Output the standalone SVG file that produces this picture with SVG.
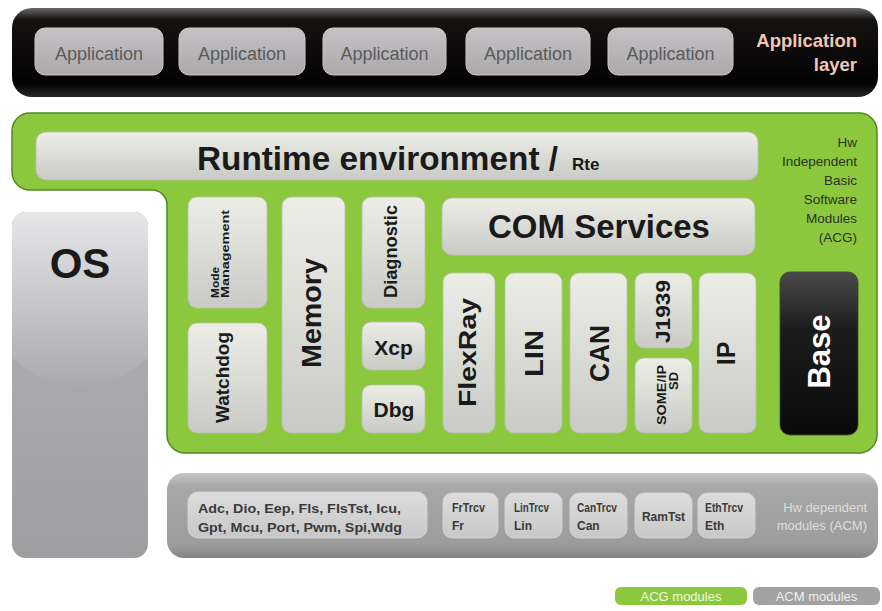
<svg xmlns="http://www.w3.org/2000/svg" width="882" height="611" viewBox="0 0 882 611">
<defs>
<linearGradient id="gBlack" x1="0" y1="0" x2="0" y2="1">
<stop offset="0" stop-color="#6a6666"/><stop offset="0.13" stop-color="#151212"/><stop offset="0.85" stop-color="#030202"/><stop offset="1" stop-color="#2a2626"/>
</linearGradient>
<linearGradient id="gApp" x1="0" y1="0" x2="0" y2="1">
<stop offset="0" stop-color="#c4c2c4"/><stop offset="1" stop-color="#aaa8aa"/>
</linearGradient>
<linearGradient id="gBox" x1="0" y1="0" x2="0" y2="1">
<stop offset="0" stop-color="#eceee6"/><stop offset="1" stop-color="#c9cac6"/>
</linearGradient>
<linearGradient id="gBase" x1="0" y1="0" x2="0" y2="1">
<stop offset="0" stop-color="#4a4a4a"/><stop offset="0.35" stop-color="#1c1c1c"/><stop offset="1" stop-color="#0a0a0a"/>
</linearGradient>
<linearGradient id="gOS" x1="0" y1="0" x2="0" y2="1">
<stop offset="0" stop-color="#b4b4b6"/><stop offset="1" stop-color="#9e9ea0"/>
</linearGradient>
<linearGradient id="gOSgloss" gradientUnits="userSpaceOnUse" x1="0" y1="212" x2="0" y2="387">
<stop offset="0" stop-color="#e6e6e8"/><stop offset="1" stop-color="#aaaaac"/>
</linearGradient>
<linearGradient id="gBar" x1="0" y1="0" x2="0" y2="1">
<stop offset="0" stop-color="#c6c6c6"/><stop offset="0.15" stop-color="#a8a8a8"/><stop offset="0.85" stop-color="#9c9c9c"/><stop offset="1" stop-color="#858585"/>
</linearGradient>
<linearGradient id="gLow" x1="0" y1="0" x2="0" y2="1">
<stop offset="0" stop-color="#dcdcdc"/><stop offset="1" stop-color="#c8c8c8"/>
</linearGradient>
<clipPath id="osClip"><rect x="12" y="212" width="136" height="346" rx="14"/></clipPath>
</defs>
<style>
text{font-family:"Liberation Sans","DejaVu Sans",sans-serif}
.app{fill:url(#gApp);stroke:#d6c6be;stroke-width:1}
.appT{font-size:18px;fill:#5a5a5a;text-anchor:middle}
.box{fill:url(#gBox);stroke:#b9c0ae;stroke-width:0.8}
.bt{font-weight:bold;fill:#1a1a1a}
.mid{text-anchor:middle}
.low{fill:url(#gLow);stroke:#d8d8d8;stroke-width:0.8}
.lt{font-size:12px;font-weight:bold;fill:#3a3a3a}
</style>
<rect width="882" height="611" fill="#ffffff"/>

<g id="application-layer">
<rect x="12" y="8" width="866" height="89" rx="20" fill="url(#gBlack)"/>
<text x="857" y="47" font-size="18.5" font-weight="bold" fill="#f0c8b4" text-anchor="end">Application</text>
<text x="857" y="71" font-size="18.5" font-weight="bold" fill="#f0c8b4" text-anchor="end">layer</text>
</g>
<g id="app1"><rect class="app" x="35" y="28" width="128" height="47" rx="10"/><text class="appT" x="99" y="60">Application</text></g>
<g id="app2"><rect class="app" x="179" y="28" width="126" height="47" rx="10"/><text class="appT" x="242" y="60">Application</text></g>
<g id="app3"><rect class="app" x="323" y="28" width="123" height="47" rx="10"/><text class="appT" x="384.5" y="60">Application</text></g>
<g id="app4"><rect class="app" x="466" y="28" width="124" height="47" rx="10"/><text class="appT" x="528" y="60">Application</text></g>
<g id="app5"><rect class="app" x="608" y="28" width="125" height="47" rx="10"/><text class="appT" x="670.5" y="60">Application</text></g>

<g id="acg-area">
<path d="M30,113 H859 A18 18 0 0 1 877,131 V435 A18 18 0 0 1 859,453 H185 A18 18 0 0 1 167,435 V205 A15 15 0 0 0 152,190 H30 A18 18 0 0 1 12,172 V131 A18 18 0 0 1 30,113 Z" fill="#8cc83e" stroke="#4e8a24" stroke-width="1.5"/>
<g font-size="13.5" fill="#2a3320" text-anchor="end">
<text x="857" y="147">Hw</text>
<text x="857" y="166">Independent</text>
<text x="857" y="185">Basic</text>
<text x="857" y="204">Software</text>
<text x="857" y="223">Modules</text>
<text x="857" y="242">(ACG)</text>
</g>
</g>

<g id="rte"><rect class="box" x="36" y="132" width="722" height="48" rx="10"/>
<text class="bt" y="170"><tspan x="197" font-size="33" textLength="361" lengthAdjust="spacingAndGlyphs">Runtime environment /</tspan><tspan x="572" font-size="17">Rte</tspan></text></g>

<g id="mode-management"><rect class="box" x="188" y="197" width="79" height="111" rx="9"/>
<text class="bt" font-size="11" transform="translate(218.5,298) rotate(-90)" textLength="31" lengthAdjust="spacingAndGlyphs">Mode</text>
<text class="bt" font-size="11" transform="translate(228.5,298) rotate(-90)" textLength="88" lengthAdjust="spacingAndGlyphs">Management</text></g>
<g id="watchdog"><rect class="box" x="188" y="323" width="79" height="110" rx="9"/>
<text class="bt mid" font-size="18" transform="translate(229,377.5) rotate(-90)" textLength="91" lengthAdjust="spacingAndGlyphs">Watchdog</text></g>
<g id="memory"><rect class="box" x="282" y="197" width="63" height="236" rx="9"/>
<text class="bt mid" font-size="28" transform="translate(321,313) rotate(-90)" textLength="110" lengthAdjust="spacingAndGlyphs">Memory</text></g>
<g id="diagnostic"><rect class="box" x="362" y="197" width="63" height="111" rx="9"/>
<text class="bt mid" font-size="18" transform="translate(397,251.5) rotate(-90)" textLength="93" lengthAdjust="spacingAndGlyphs">Diagnostic</text></g>
<g id="xcp"><rect class="box" x="362" y="322" width="63" height="48" rx="9"/>
<text class="bt mid" font-size="21" x="393.5" y="355">Xcp</text></g>
<g id="dbg"><rect class="box" x="362" y="385" width="63" height="48" rx="9"/>
<text class="bt mid" font-size="21" x="394" y="417">Dbg</text></g>

<g id="com-services"><rect class="box" x="442" y="198" width="313" height="57" rx="10"/>
<text class="bt mid" font-size="33" x="599" y="238">COM Services</text></g>
<g id="flexray"><rect class="box" x="443" y="273" width="52" height="160" rx="9"/>
<text class="bt mid" font-size="24" transform="translate(476,352.5) rotate(-90)" textLength="109" lengthAdjust="spacingAndGlyphs">FlexRay</text></g>
<g id="lin"><rect class="box" x="505" y="273" width="57" height="160" rx="9"/>
<text class="bt mid" font-size="26" transform="translate(543,353.5) rotate(-90)" textLength="47" lengthAdjust="spacingAndGlyphs">LIN</text></g>
<g id="can"><rect class="box" x="570" y="273" width="57" height="160" rx="9"/>
<text class="bt mid" font-size="28" transform="translate(609,353.5) rotate(-90)" textLength="57" lengthAdjust="spacingAndGlyphs">CAN</text></g>
<g id="j1939"><rect class="box" x="635" y="273" width="57" height="75" rx="9"/>
<text class="bt mid" font-size="21" transform="translate(670,311.5) rotate(-90)" textLength="63" lengthAdjust="spacingAndGlyphs">J1939</text></g>
<g id="someip-sd"><rect class="box" x="635" y="358" width="57" height="75" rx="9"/>
<text class="bt mid" font-size="13" transform="translate(665.5,395) rotate(-90)" textLength="60" lengthAdjust="spacingAndGlyphs">SOME/IP</text>
<text class="bt mid" font-size="13" transform="translate(677.5,381) rotate(-90)">SD</text></g>
<g id="ip"><rect class="box" x="699" y="273" width="57" height="160" rx="9"/>
<text class="bt mid" font-size="25" transform="translate(735,353.5) rotate(-90)">IP</text></g>
<g id="base"><rect x="780" y="272" width="78" height="163" rx="10" fill="url(#gBase)" stroke="#3a4a2a" stroke-width="0.8"/>
<text class="mid" font-size="31" font-weight="bold" fill="#ffffff" transform="translate(830,351.5) rotate(-90)" textLength="74" lengthAdjust="spacingAndGlyphs">Base</text></g>

<g id="os">
<rect x="12" y="212" width="136" height="346" rx="14" fill="url(#gOS)"/>
<g clip-path="url(#osClip)"><ellipse cx="80" cy="200" rx="125" ry="187" fill="url(#gOSgloss)"/></g>
<text class="mid" x="80" y="278" font-size="42" font-weight="bold" fill="#1a1a1a">OS</text>
</g>

<g id="acm-layer">
<rect x="167" y="473" width="711" height="85" rx="17" fill="url(#gBar)"/>
<text x="867" y="512" font-size="13" fill="#dedede" text-anchor="end">Hw dependent</text>
<text x="867" y="530" font-size="13" fill="#dedede" text-anchor="end">modules (ACM)</text>
</g>
<g id="mcal"><rect class="low" x="188" y="492" width="239" height="46" rx="10"/>
<text font-size="13" font-weight="bold" fill="#3a3a3a" x="198" y="513" textLength="203" lengthAdjust="spacingAndGlyphs">Adc, Dio, Eep, Fls, FlsTst, Icu,</text>
<text font-size="13" font-weight="bold" fill="#3a3a3a" x="198" y="532" textLength="204" lengthAdjust="spacingAndGlyphs">Gpt, Mcu, Port, Pwm, Spi,Wdg</text></g>
<g id="frtrcv"><rect class="low" x="443" y="493" width="55" height="45" rx="9"/>
<text class="lt" x="452" y="512" textLength="33" lengthAdjust="spacingAndGlyphs">FrTrcv</text><text class="lt" x="452" y="530">Fr</text></g>
<g id="lintrcv"><rect class="low" x="505" y="493" width="57" height="45" rx="9"/>
<text class="lt" x="514" y="512" textLength="35" lengthAdjust="spacingAndGlyphs">LinTrcv</text><text class="lt" x="514" y="530">Lin</text></g>
<g id="cantrcv"><rect class="low" x="570" y="493" width="57" height="45" rx="9"/>
<text class="lt" x="577" y="512" textLength="40" lengthAdjust="spacingAndGlyphs">CanTrcv</text><text class="lt" x="577" y="530">Can</text></g>
<g id="ramtst"><rect class="low" x="635" y="493" width="57" height="45" rx="9"/>
<text class="lt mid" x="663.5" y="521">RamTst</text></g>
<g id="ethtrcv"><rect class="low" x="698" y="493" width="57" height="45" rx="9"/>
<text class="lt" x="705" y="512" textLength="38" lengthAdjust="spacingAndGlyphs">EthTrcv</text><text class="lt" x="705" y="530">Eth</text></g>

<g id="legend-acg"><rect x="615" y="587" width="132" height="18" rx="6" fill="#8cc83e"/>
<text class="mid" x="681" y="601" font-size="13" fill="#eef8e0">ACG modules</text></g>
<g id="legend-acm"><rect x="753" y="587" width="127" height="18" rx="6" fill="#a2a2a2"/>
<text class="mid" x="816.5" y="601" font-size="13" fill="#eeeeee">ACM modules</text></g>

<g id="connectors"/>
</svg>
